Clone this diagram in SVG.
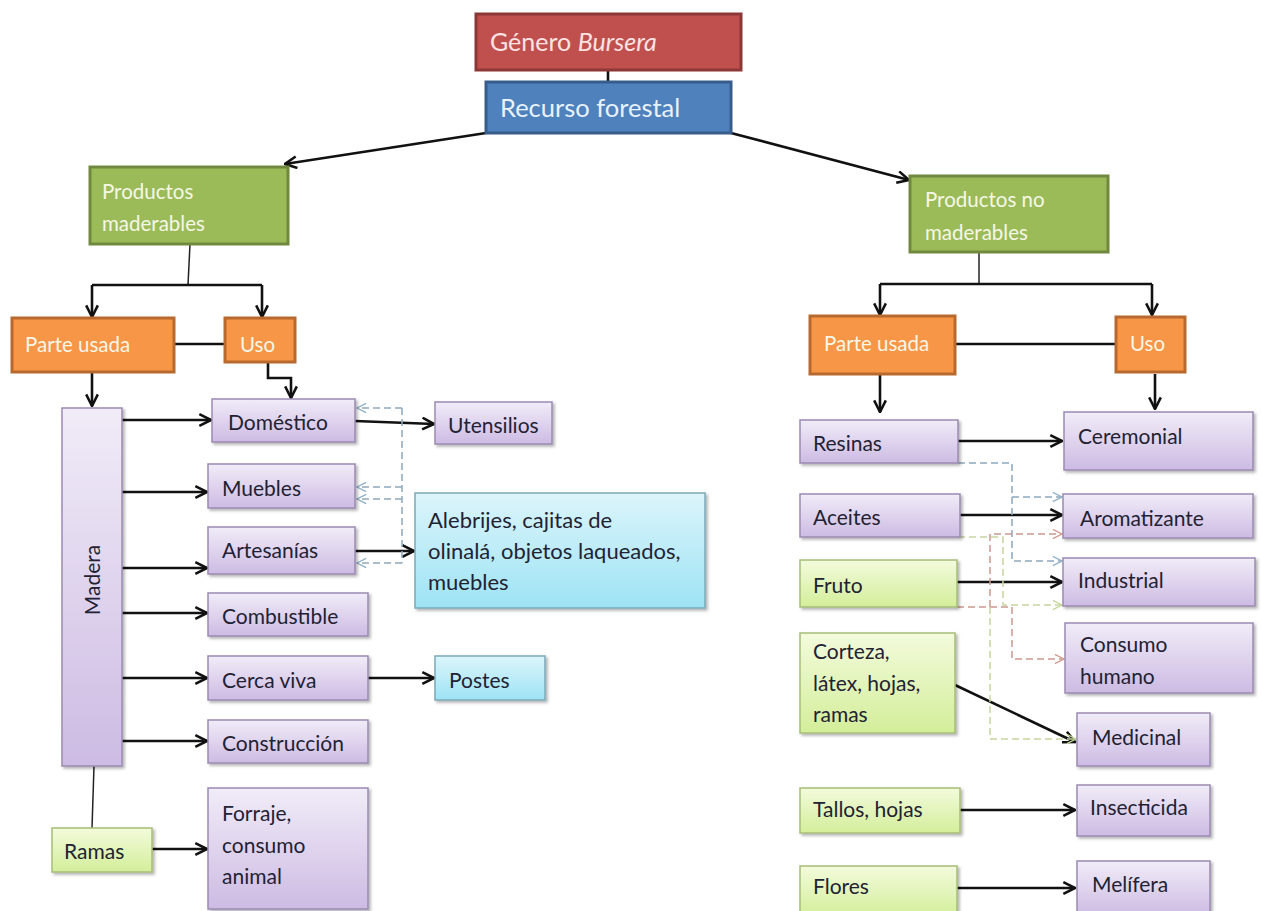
<svg xmlns="http://www.w3.org/2000/svg" width="1263" height="911" viewBox="0 0 1263 911">
<defs>
  <linearGradient id="gPurple" x1="0" y1="0" x2="0" y2="1">
    <stop offset="0" stop-color="#f1ecf8"/>
    <stop offset="1" stop-color="#cdbbe3"/>
  </linearGradient>
  <linearGradient id="gGreen" x1="0" y1="0" x2="0" y2="1">
    <stop offset="0" stop-color="#f3fbdc"/>
    <stop offset="1" stop-color="#d3ee9a"/>
  </linearGradient>
  <linearGradient id="gCyan" x1="0" y1="0" x2="0" y2="1">
    <stop offset="0" stop-color="#dcf5fb"/>
    <stop offset="1" stop-color="#9de3f4"/>
  </linearGradient>
  <filter id="sh" x="-10%" y="-10%" width="125%" height="130%">
    <feDropShadow dx="2" dy="2" stdDeviation="1.5" flood-color="#000" flood-opacity="0.3"/>
  </filter>
  <marker id="ah" viewBox="0 0 12 12" refX="11" refY="6" markerWidth="14" markerHeight="14" markerUnits="userSpaceOnUse" orient="auto">
    <path d="M1,1 L11,6 L1,11" fill="none" stroke="#111" stroke-width="2.2"/>
  </marker>
  <marker id="ahB" viewBox="0 0 12 12" refX="11" refY="6" markerWidth="11" markerHeight="11" markerUnits="userSpaceOnUse" orient="auto">
    <path d="M1,1 L11,6 L1,11" fill="none" stroke="#8fb0c8" stroke-width="1.5"/>
  </marker>
  <marker id="ahR" viewBox="0 0 12 12" refX="11" refY="6" markerWidth="11" markerHeight="11" markerUnits="userSpaceOnUse" orient="auto">
    <path d="M1,1 L11,6 L1,11" fill="none" stroke="#d29a8c" stroke-width="1.5"/>
  </marker>
  <marker id="ahG" viewBox="0 0 12 12" refX="11" refY="6" markerWidth="11" markerHeight="11" markerUnits="userSpaceOnUse" orient="auto">
    <path d="M1,1 L11,6 L1,11" fill="none" stroke="#c5d89a" stroke-width="1.5"/>
  </marker>
</defs>
<style>
  text { font-family: Lato, "Open Sans", "Liberation Sans", sans-serif; font-size: 21px; fill: #222233; }
  .hd { fill: #f6f7e6; font-size: 20.5px; }
  .tt { fill: #fbe3e3; font-size: 25px; }
  .tb { fill: #e8f2fb; font-size: 25.5px; }
  .big { font-size: 22px; }
  .pu { fill: url(#gPurple); stroke: #9a8ab2; stroke-width: 1.5; filter: url(#sh); }
  .gr { fill: url(#gGreen); stroke: #a6bd78; stroke-width: 1.5; filter: url(#sh); }
  .cy { fill: url(#gCyan); stroke: #7aa9b8; stroke-width: 1.5; filter: url(#sh); }
  .or { fill: #f79646; stroke: #b8692e; stroke-width: 3; }
  .gn { fill: #9bbb59; stroke: #71893f; stroke-width: 3; }
  .c { fill: none; stroke: #111; stroke-width: 2.6; }
  .ca { fill: none; stroke: #111; stroke-width: 2.6; marker-end: url(#ah); }
  .thin { fill: none; stroke: #222; stroke-width: 1.5; }
  .dB { fill: none; stroke: #8fa8bc; stroke-width: 1.5; stroke-dasharray: 7 4; }
  .dR { fill: none; stroke: #c9998e; stroke-width: 1.5; stroke-dasharray: 7 4; }
  .dG { fill: none; stroke: #c5d6a0; stroke-width: 1.5; stroke-dasharray: 7 4; }
</style>

<g id="connectors">
  <path class="c" d="M608,70 V82"/>
  <path class="ca" d="M486,133 L285,164"/>
  <path class="ca" d="M731,133 L909,180"/>
  <path class="thin" d="M190,244 L188,285"/>
  <path class="c" d="M92,285 H262"/>
  <path class="ca" d="M92,285 V317"/>
  <path class="ca" d="M262,285 V317"/>
  <path class="c" d="M174,344 H225"/>
  <path class="ca" d="M92,372 V406"/>
  <path class="ca" d="M268,362 V378 H291 V398"/>
  <path class="ca" d="M122,420 H211"/>
  <path class="ca" d="M122,492 H207"/>
  <path class="ca" d="M122,568 H207"/>
  <path class="ca" d="M122,613 H207"/>
  <path class="ca" d="M122,678 H207"/>
  <path class="ca" d="M122,741 H207"/>
  <path class="ca" d="M355,421 L434,424"/>
  <path class="ca" d="M355,551 H414"/>
  <path class="ca" d="M368,678 H434"/>
  <path class="ca" d="M152,849 H207"/>
  <path class="thin" d="M94,766 L92,828"/>
  <path class="dB" d="M402,408 V563"/>
  <path class="dB" d="M402,408 H357" marker-end="url(#ahB)"/>
  <path class="dB" d="M402,487 H357" marker-end="url(#ahB)"/>
  <path class="dB" d="M402,499 H357" marker-end="url(#ahB)"/>
  <path class="dB" d="M402,563 H357" marker-end="url(#ahB)"/>
  <path class="thin" d="M979,252 V284"/>
  <path class="c" d="M880,284 H1152"/>
  <path class="ca" d="M880,284 V315"/>
  <path class="ca" d="M1152,284 V315"/>
  <path class="c" d="M955,344 H1116"/>
  <path class="ca" d="M880,374 V412"/>
  <path class="ca" d="M1155,374 V409"/>
  <path class="ca" d="M958,441 H1062"/>
  <path class="ca" d="M960,515 H1062"/>
  <path class="ca" d="M957,582 H1062"/>
  <path class="ca" d="M955,685 L1075,742"/>
  <path class="ca" d="M960,810 H1075"/>
  <path class="ca" d="M957,888 H1075"/>
  <path class="dB" d="M958,463 H1012 V561 H1062" marker-end="url(#ahB)"/>
  <path class="dB" d="M1012,497 H1062" marker-end="url(#ahB)"/>
  <path class="dG" d="M958,537 H1003 V605 H1062" marker-end="url(#ahG)"/>
  <path class="dR" d="M990,607 V534 H1062" marker-end="url(#ahR)"/>
  <path class="dR" d="M957,607 H1012 V659 H1064" marker-end="url(#ahR)"/>
  <path class="dG" d="M990,607 V739 H1076" marker-end="url(#ahG)"/>
</g>

<g id="genero">
  <rect x="476" y="14" width="265" height="56" fill="#c0504d" stroke="#8c3836" stroke-width="3"/>
  <text class="tt" x="490" y="51">Género <tspan font-style="italic">Bursera</tspan></text>
</g>
<g id="recurso">
  <rect x="486" y="82" width="245" height="51" fill="#4f81bd" stroke="#385d8a" stroke-width="3"/>
  <text class="tb" x="500" y="117">Recurso forestal</text>
</g>

<g id="prod-maderables">
  <rect class="gn" x="90" y="167" width="198" height="77"/>
  <text class="hd" x="102" y="199">Productos</text>
  <text class="hd" x="102" y="231">maderables</text>
</g>
<g id="parte-usada-l">
  <rect class="or" x="12" y="318" width="162" height="54"/>
  <text class="hd" x="25" y="352">Parte usada</text>
</g>
<g id="uso-l">
  <rect class="or" x="225" y="318" width="70" height="44"/>
  <text class="hd" x="240" y="352">Uso</text>
</g>
<g id="madera">
  <rect class="pu" x="62" y="408" width="60" height="358"/>
  <text x="93" y="580" text-anchor="middle" transform="rotate(-90 93 580)" dy="7">Madera</text>
</g>
<g id="domestico"><rect class="pu" x="212" y="399" width="143" height="43"/><text x="228" y="430">Doméstico</text></g>
<g id="muebles"><rect class="pu" x="208" y="464" width="147" height="44"/><text x="222" y="496">Muebles</text></g>
<g id="artesanias"><rect class="pu" x="208" y="527" width="147" height="47"/><text x="222" y="558">Artesanías</text></g>
<g id="combustible"><rect class="pu" x="208" y="593" width="160" height="43"/><text x="222" y="624">Combustible</text></g>
<g id="cerca-viva"><rect class="pu" x="208" y="656" width="160" height="44"/><text x="222" y="688">Cerca viva</text></g>
<g id="construccion"><rect class="pu" x="208" y="720" width="160" height="43"/><text x="222" y="751">Construcción</text></g>
<g id="forraje"><rect class="pu" x="208" y="788" width="160" height="121"/>
  <text x="222" y="821">Forraje,</text><text x="222" y="853">consumo</text><text x="222" y="884">animal</text></g>
<g id="utensilios"><rect class="pu" x="435" y="402" width="117" height="42"/><text x="448" y="433">Utensilios</text></g>
<g id="alebrijes"><rect class="cy" x="415" y="493" width="290" height="115"/>
  <text class="big" x="428" y="528">Alebrijes, cajitas de</text><text class="big" x="428" y="559">olinalá, objetos laqueados,</text><text class="big" x="428" y="590">muebles</text></g>
<g id="postes"><rect class="cy" x="435" y="656" width="110" height="44"/><text x="449" y="688">Postes</text></g>
<g id="ramas"><rect class="gr" x="52" y="828" width="100" height="44"/><text x="64" y="859">Ramas</text></g>

<g id="prod-no-maderables">
  <rect class="gn" x="910" y="176" width="198" height="76"/>
  <text class="hd" x="925" y="207">Productos no</text>
  <text class="hd" x="925" y="240">maderables</text>
</g>
<g id="parte-usada-r">
  <rect class="or" x="810" y="316" width="145" height="58"/>
  <text class="hd" x="824" y="351">Parte usada</text>
</g>
<g id="uso-r">
  <rect class="or" x="1116" y="317" width="69" height="55"/>
  <text class="hd" x="1130" y="351">Uso</text>
</g>
<g id="resinas"><rect class="pu" x="800" y="420" width="158" height="43"/><text x="813" y="451">Resinas</text></g>
<g id="ceremonial"><rect class="pu" x="1064" y="412" width="189" height="58"/><text x="1078" y="444">Ceremonial</text></g>
<g id="aceites"><rect class="pu" x="800" y="494" width="160" height="43"/><text x="813" y="525">Aceites</text></g>
<g id="aromatizante"><rect class="pu" x="1063" y="494" width="190" height="44"/><text x="1080" y="526">Aromatizante</text></g>
<g id="fruto"><rect class="gr" x="800" y="560" width="157" height="47"/><text x="813" y="593">Fruto</text></g>
<g id="industrial"><rect class="pu" x="1063" y="558" width="192" height="48"/><text x="1078" y="588">Industrial</text></g>
<g id="corteza"><rect class="gr" x="800" y="633" width="155" height="100"/>
  <text x="813" y="659">Corteza,</text><text x="813" y="691">látex, hojas,</text><text x="813" y="722">ramas</text></g>
<g id="consumo-humano"><rect class="pu" x="1065" y="623" width="188" height="70"/>
  <text x="1080" y="652">Consumo</text><text x="1080" y="684">humano</text></g>
<g id="medicinal"><rect class="pu" x="1077" y="713" width="133" height="53"/><text x="1092" y="745">Medicinal</text></g>
<g id="tallos"><rect class="gr" x="800" y="788" width="160" height="45"/><text x="813" y="817">Tallos, hojas</text></g>
<g id="insecticida"><rect class="pu" x="1077" y="785" width="133" height="51"/><text x="1090" y="815">Insecticida</text></g>
<g id="flores"><rect class="gr" x="800" y="866" width="157" height="50"/><text x="813" y="894">Flores</text></g>
<g id="melifera"><rect class="pu" x="1077" y="861" width="133" height="55"/><text x="1092" y="892">Melífera</text></g>
</svg>
